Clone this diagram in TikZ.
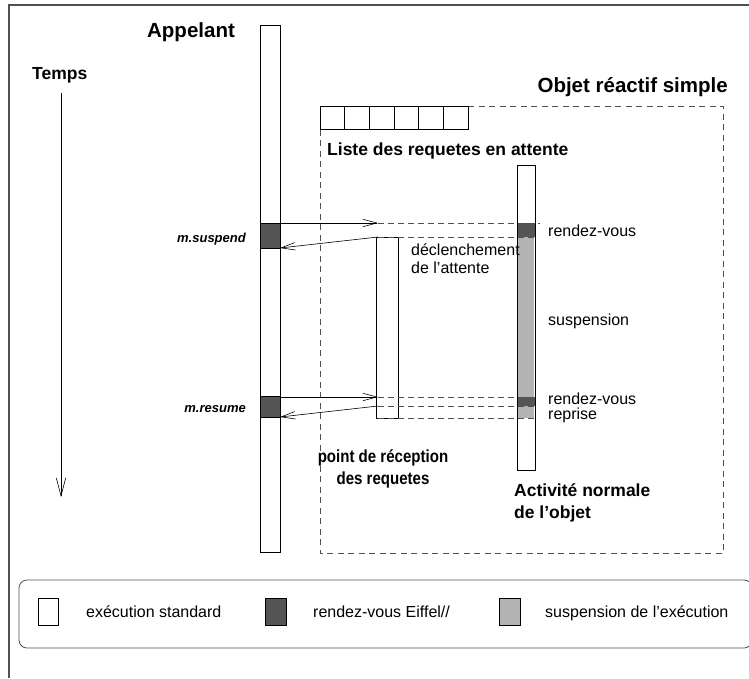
\documentclass[tikz,border=0pt]{standalone}
\usepackage{fontspec}
\setmainfont{Liberation Sans}
\newfontfamily\narrowsans[FakeStretch=0.86]{Liberation Sans}
\usetikzlibrary{arrows.meta}
\definecolor{rdv}{HTML}{555555}
\definecolor{susp}{HTML}{B3B3B3}
\definecolor{frame}{HTML}{505050}
\begin{document}
\begin{tikzpicture}[x=1pt,y=-1pt,
  bar/.style={draw=black, line width=0.8pt, inner sep=0pt, outer sep=0pt, anchor=north west},
  blk/.style={inner sep=0pt, outer sep=0pt, anchor=north west},
  lbl/.style={font=\fontsize{16}{18}\selectfont, inner sep=0pt},
  blbl/.style={font=\bfseries\fontsize{17.5}{20}\selectfont, inner sep=0pt},
  rlbl/.style={font=\narrowsans\bfseries\fontsize{17.5}{20}\selectfont, inner sep=0pt},
  big/.style={font=\bfseries\fontsize{20.5}{24}\selectfont, inner sep=0pt},
  meth/.style={font=\bfseries\itshape\fontsize{13}{15}\selectfont, inner sep=0pt, anchor=base east},
  msg/.style={-{Straight Barb[length=14pt,width=7.5pt]}, line width=0.6pt},
  guide/.style={draw=frame, line width=0.6pt, dash pattern=on 6pt off 4pt},
  objframe/.style={draw=frame, line width=0.8pt, dash pattern=on 6pt off 4.5pt},
]
\useasboundingbox (0,0) rectangle (749,678);
% outer frame
\draw[frame, line width=1.3pt] (9,678) -- (9,5) -- (749,5);

% time axis
\coordinate (t0) at (61,93);
\coordinate (t1) at (61,497);
\draw[-{Straight Barb[length=18pt,width=9.5pt]}, line width=0.6pt] (t0) -- (t1);
\node[blbl, anchor=base west] (temps) at (32,79) {Temps};

% caller
\node[big, anchor=base] (appelant) at (191,37) {Appelant};
\node[bar, minimum width=20pt, minimum height=527pt] (caller) at (260,25) {};
\node[blk, fill=rdv, draw=black, line width=0.8pt, minimum width=20pt, minimum height=25pt] (csusp) at (260,223) {};
\node[blk, fill=rdv, draw=black, line width=0.8pt, minimum width=20pt, minimum height=21pt] (cres) at (260,396) {};
\node[meth] (msusp) at (246,242) {m.suspend};
\node[meth] (mres) at (246,412) {m.resume};

% object frame
\node[big, anchor=base east] (objet) at (728,92) {Objet réactif simple};
\coordinate (f1) at (468,106);
\coordinate (f2) at (723,106);
\coordinate (f3) at (723,553);
\coordinate (f4) at (320,553);
\coordinate (f5) at (320,129);
\draw[objframe] (f1) -- (f2) -- (f3) -- (f4) -- (f5);

% queue
\foreach \i in {0,...,5} {
  \node[blk, draw=black, line width=0.8pt, minimum width=24.67pt, minimum height=23pt] (q\i) at (320+\i*24.67,106) {};
}
\node[blbl, anchor=base west] (liste) at (327,155) {Liste des requetes en attente};

% activity bar
\node[bar, minimum width=18pt, minimum height=305pt] (act) at (517,165) {};
\node[blk, fill=susp, minimum width=17pt, minimum height=181pt] (actsusp) at (517,237) {};
\node[blk, fill=rdv, minimum width=18pt, minimum height=14pt] (actrdv1) at (517,223) {};
\node[blk, fill=rdv, minimum width=18pt, minimum height=9pt] (actrdv2) at (517,397) {};
\draw[line width=0.8pt] (act.north west) rectangle (act.south east);

% reception bar
\node[bar, minimum width=22pt, minimum height=181pt] (recep) at (376,237) {};

% guides
\coordinate (g1a) at (378,223); \coordinate (g1b) at (540,223);
\coordinate (g2a) at (378,237); \coordinate (g2b) at (535,237);
\coordinate (g3a) at (378,397); \coordinate (g3b) at (535,397);
\coordinate (g4a) at (378,406); \coordinate (g4b) at (535,406);
\coordinate (g5a) at (378,418); \coordinate (g5b) at (535,418);
\foreach \g in {1,...,5} { \draw[guide] (g\g a) -- (g\g b); }

% messages
\coordinate (s1) at (280,223);
\coordinate (s2) at (280,248);
\coordinate (r1) at (280,397);
\coordinate (r2) at (280,417);
\draw[msg] (s1) -- (g1a);
\draw[msg] (g2a) -- (s2);
\draw[msg] (r1) -- (g3a);
\draw[msg] (g4a) -- (r2);

% labels
\node[lbl, anchor=base west] (rdv1) at (548,236) {rendez-vous};
\node[lbl, anchor=base west] (decl1) at (411,255) {déclenchement};
\node[lbl, anchor=base west] (decl2) at (411,273) {de l’attente};
\node[lbl, anchor=base west] (suspl) at (548,325) {suspension};
\node[lbl, anchor=base west] (rdv2) at (548,404) {rendez-vous};
\node[lbl, anchor=base west] (repr) at (548,419) {reprise};
\node[rlbl, anchor=base] (pt1) at (383,462) {point de réception};
\node[rlbl, anchor=base] (pt2) at (383,484) {des requetes};
\node[blbl, anchor=base west] (an1) at (514,496) {Activité normale};
\node[blbl, anchor=base west] (an2) at (514,518) {de l’objet};

% legend
\draw[frame, line width=0.8pt, rounded corners=8pt] (19,580) rectangle (752,648);
\node[blk, draw=black, line width=0.8pt, minimum width=20pt, minimum height=27pt] (k1) at (38,598) {};
\node[lbl, anchor=base west] (k1t) at (86,617) {exécution standard};
\node[blk, draw=black, fill=rdv, line width=0.8pt, minimum width=21pt, minimum height=27pt] (k2) at (265,598) {};
\node[lbl, anchor=base west] (k2t) at (313,617) {rendez-vous Eiffel//};
\node[blk, draw=black, fill=susp, line width=0.8pt, minimum width=21pt, minimum height=27pt] (k3) at (499,598) {};
\node[lbl, anchor=base west] (k3t) at (545,617) {suspension de l’exécution};
\end{tikzpicture}
\end{document}
